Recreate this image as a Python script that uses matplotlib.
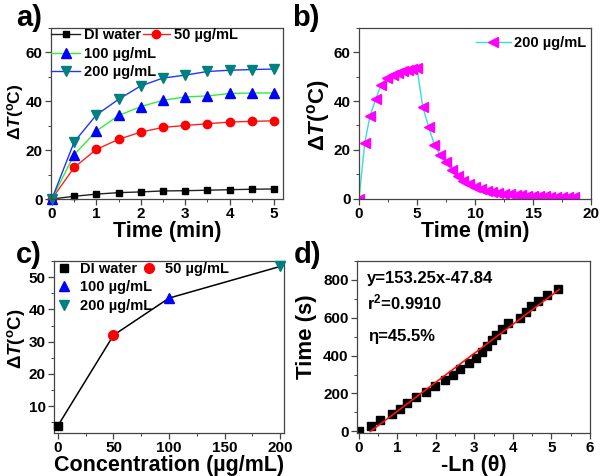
import matplotlib
matplotlib.use("Agg")
import matplotlib.pyplot as plt
from matplotlib.ticker import MultipleLocator

plt.rcParams['font.family'] = ['Liberation Sans', 'DejaVu Sans']
plt.rcParams['font.weight'] = 'bold'
plt.rcParams['mathtext.fontset'] = 'custom'
plt.rcParams['mathtext.rm'] = 'Liberation Sans:bold'
plt.rcParams['mathtext.it'] = 'Liberation Sans:bold:italic'
plt.rcParams['mathtext.bf'] = 'Liberation Sans:bold'

# ---------------- data ----------------
time_a = [0, 0.5, 1, 1.5, 2, 2.5, 3, 3.5, 4, 4.5, 5]
dT_water = [0, 1.1, 2.0, 2.6, 2.9, 3.3, 3.4, 3.6, 3.8, 4.0, 4.1]
dT_50 = [0, 12.9, 20.3, 24.4, 27.4, 29.3, 30.1, 30.8, 31.5, 31.8, 32.0]
dT_100 = [0, 18.1, 27.8, 34.2, 37.8, 40.4, 41.8, 42.2, 43.2, 43.4, 43.4]
dT_200 = [0, 23.3, 34.4, 40.8, 46.3, 49.5, 50.7, 52.2, 52.7, 53.0, 53.2]
labels_a = ['DI water', '50 µg/mL', '100 µg/mL', '200 µg/mL']

time_b = [0, 0.5, 0.95, 1.45, 1.9, 2.45, 2.9, 3.35, 3.75, 4.2, 4.6, 5.0,
          5.5, 6.0, 6.5, 7.0, 7.5, 8.0, 8.5, 9.0, 9.5, 10.0, 10.5, 11.0,
          11.5, 12.0, 12.5, 13.0, 13.5, 14.0, 14.5, 15.0, 15.5, 16.0,
          16.5, 17.0, 17.5, 18.0, 18.5]
dT_b = [0, 22.9, 34.0, 40.9, 46.6, 49.4, 50.8, 51.7, 52.4, 52.8, 53.1, 53.5,
        37.5, 29.5, 22.0, 17.7, 14.8, 11.6, 9.2, 7.3, 5.8, 4.7, 3.9, 3.2,
        2.7, 2.3, 2.0, 1.7, 1.4, 1.3, 1.2, 1.0, 0.9, 0.9, 0.75, 0.75,
        0.6, 0.6, 0.6]
label_b = '200 µg/mL'

conc = [0, 50, 100, 200]
dT_conc = [4.0, 32.0, 43.5, 53.3]

neg_ln_theta = [0, 0.31, 0.56, 0.87, 1.08, 1.26, 1.50, 1.76, 1.97, 2.25,
                2.45, 2.64, 2.87, 3.05, 3.19, 3.33, 3.45, 3.56, 3.71, 3.88,
                4.19, 4.33, 4.47, 4.65, 4.88, 5.16]
time_s = [0, 30, 60, 90, 120, 150, 180, 210, 240, 270, 300, 330, 360, 390,
          420, 450, 480, 510, 540, 570, 600, 630, 660, 690, 720, 750]
fit_slope = 153.25
fit_intercept = -47.84
fit_range = [0.31, 5.2]
fit_texts = ['y=153.25x-47.84', r'r$^{2}$=0.9910', '\u03b7=45.5%']

# ---------------- figure ----------------
W, H = 600, 476
fig = plt.figure(figsize=(6.0, 4.76), dpi=100)
spine_col = '#444444'


def style(ax):
    for s in ax.spines.values():
        s.set_color(spine_col)
        s.set_linewidth(0.9)
    ax.tick_params(which='major', direction='out', length=4, width=0.9,
                   labelsize=11, color=spine_col, pad=2)
    ax.tick_params(which='minor', direction='out', length=2.5, width=0.7,
                   color=spine_col)
    for lab in ax.get_xticklabels() + ax.get_yticklabels():
        lab.set_fontweight('bold')


def set_ylab(ax, text, size, xc, yc):
    ax.set_ylabel(text, fontsize=size, fontweight='bold')
    ax.yaxis.label.set_verticalalignment('center')
    ax.yaxis.set_label_coords(xc, yc)


ylab_dT = r'$\Delta\mathit{T}\mathrm{(^{o}C)}$'

# ---- panel a ----
axa = fig.add_axes([51/W, 1-199/H, 232/W, 171/H])
la = axa.plot(time_a, dT_water, '-', color='#222222', lw=1, marker='s',
              ms=5, mfc='black', mec='black', clip_on=False)[0]
lb = axa.plot(time_a, dT_50, '-', color='#ff2020', lw=1, marker='o',
              ms=6, mfc='red', mec='red', clip_on=False)[0]
lc = axa.plot(time_a, dT_100, '-', color='#33ee33', lw=1, marker='^',
              ms=7, mfc='#0000ff', mec='#0000ff', clip_on=False)[0]
ld = axa.plot(time_a, dT_200, '-', color='#2233ff', lw=1, marker='v',
              ms=7, mfc='#008080', mec='#008080', clip_on=False)[0]
axa.set_xlim(-0.02, 5.2)
axa.set_ylim(0, 70)
axa.xaxis.set_major_locator(MultipleLocator(1))
axa.xaxis.set_minor_locator(MultipleLocator(0.5))
axa.yaxis.set_major_locator(MultipleLocator(20))
axa.yaxis.set_minor_locator(MultipleLocator(10))
style(axa)
axa.set_xlabel('Time (min)', fontsize=15.5, fontweight='bold', labelpad=0)
set_ylab(axa, ylab_dT, 12.5, -0.155, 0.51)
leg1 = axa.legend([la, lc, ld], [labels_a[0], labels_a[2], labels_a[3]],
                  loc='upper left', bbox_to_anchor=(0, 1.0), frameon=False,
                  borderaxespad=0, borderpad=0.0,
                  handlelength=2.0, handletextpad=0.25, labelspacing=0.32,
                  prop={'weight': 'bold', 'size': 10.5})
axa.add_artist(leg1)
axa.legend([lb], [labels_a[1]], loc='upper left', bbox_to_anchor=(0.395, 1.0),
           frameon=False, borderaxespad=0, borderpad=0.0,
           handlelength=1.9, handletextpad=0.25,
           prop={'weight': 'bold', 'size': 10.5})

# ---- panel b ----
axb = fig.add_axes([359/W, 1-198.5/H, 232/W, 170.5/H])
axb.plot(time_b, dT_b, '-', color='#33dddd', lw=1, marker='<', ms=7,
         mfc='#ff00ff', mec='#ff00ff', label=label_b)
axb.set_xlim(0, 20)
axb.set_ylim(0, 70)
axb.xaxis.set_major_locator(MultipleLocator(5))
axb.xaxis.set_minor_locator(MultipleLocator(2.5))
axb.yaxis.set_major_locator(MultipleLocator(20))
axb.yaxis.set_minor_locator(MultipleLocator(10))
style(axb)
axb.set_xlabel('Time (min)', fontsize=15.5, fontweight='bold', labelpad=0)
set_ylab(axb, ylab_dT, 16, -0.175, 0.49)
axb.legend(loc='upper right', bbox_to_anchor=(0.99, 0.97), frameon=False,
           borderaxespad=0, borderpad=0.2, handlelength=2.4,
           handletextpad=0.2, prop={'weight': 'bold', 'size': 10.5})

# ---- panel c ----
axc = fig.add_axes([54/W, 1-433/H, 230/W, 172/H])
axc.plot(conc, dT_conc, '-', color='black', lw=1.1, zorder=2)
mk_c = ['s', 'o', '^', 'v']
col_c = ['black', 'red', '#0000ff', '#008080']
handles_c = []
for i in range(len(conc)):
    h = axc.plot([conc[i]], [dT_conc[i]], linestyle='none', marker=mk_c[i],
                 ms=7 if i else 6, mfc=col_c[i], mec=col_c[i], zorder=3,
                 clip_on=False)[0]
    handles_c.append(h)
axc.set_xlim(-3.6, 203.6)
axc.set_ylim(1.7, 55)
axc.xaxis.set_major_locator(MultipleLocator(50))
axc.xaxis.set_minor_locator(MultipleLocator(25))
axc.yaxis.set_major_locator(MultipleLocator(10))
axc.yaxis.set_minor_locator(MultipleLocator(5))
style(axc)
axc.set_xlabel('Concentration (µg/mL)', fontsize=15.5, fontweight='bold',
               labelpad=0)
set_ylab(axc, ylab_dT, 13.5, -0.165, 0.55)
legc1 = axc.legend([handles_c[0], handles_c[2], handles_c[3]],
                   [labels_a[0], labels_a[2], labels_a[3]],
                   loc='upper left', bbox_to_anchor=(0.01, 0.995), frameon=False,
                   borderaxespad=0, borderpad=0.0, handlelength=1.0,
                   handletextpad=0.6, labelspacing=0.3,
                   prop={'weight': 'bold', 'size': 10.5})
axc.add_artist(legc1)
axc.legend([handles_c[1]], [labels_a[1]], loc='upper left',
           bbox_to_anchor=(0.38, 0.995), frameon=False, borderaxespad=0,
           borderpad=0.0, handlelength=1.0, handletextpad=0.6,
           prop={'weight': 'bold', 'size': 10.5})

# ---- panel d ----
axd = fig.add_axes([357/W, 1-433/H, 233/W, 172/H])
axd.plot(neg_ln_theta, time_s, linestyle='none', marker='s', ms=6,
         mfc='black', mec='black', zorder=2)
axd.plot(fit_range, [fit_slope*x + fit_intercept for x in fit_range], '-',
         color='#ff1010', lw=1.2, zorder=3)
axd.set_xlim(-0.04, 6)
axd.set_ylim(-9, 900)
axd.xaxis.set_major_locator(MultipleLocator(1))
axd.xaxis.set_minor_locator(MultipleLocator(0.5))
axd.yaxis.set_major_locator(MultipleLocator(200))
axd.yaxis.set_minor_locator(MultipleLocator(100))
style(axd)
axd.set_xlabel('-Ln (\u03b8)', fontsize=15.5, fontweight='bold', labelpad=0)
set_ylab(axd, 'Time (s)', 16, -0.215, 0.56)
for txt, (xp, yp) in zip(fit_texts, [(367, 279), (367, 302), (368, 336)]):
    fig.text(xp/W, 1-yp/H, txt, fontsize=12, fontweight='bold',
             va='center', ha='left')

# panel labels
for lab, xp, yp in [('a)', 16, 18), ('b)', 292, 18), ('c)', 16, 255),
                    ('d)', 294, 255)]:
    fig.text(xp/W, 1-yp/H, lab, fontsize=21, fontweight='bold',
             va='center', ha='left')

fig.savefig('out.png', dpi=100)
